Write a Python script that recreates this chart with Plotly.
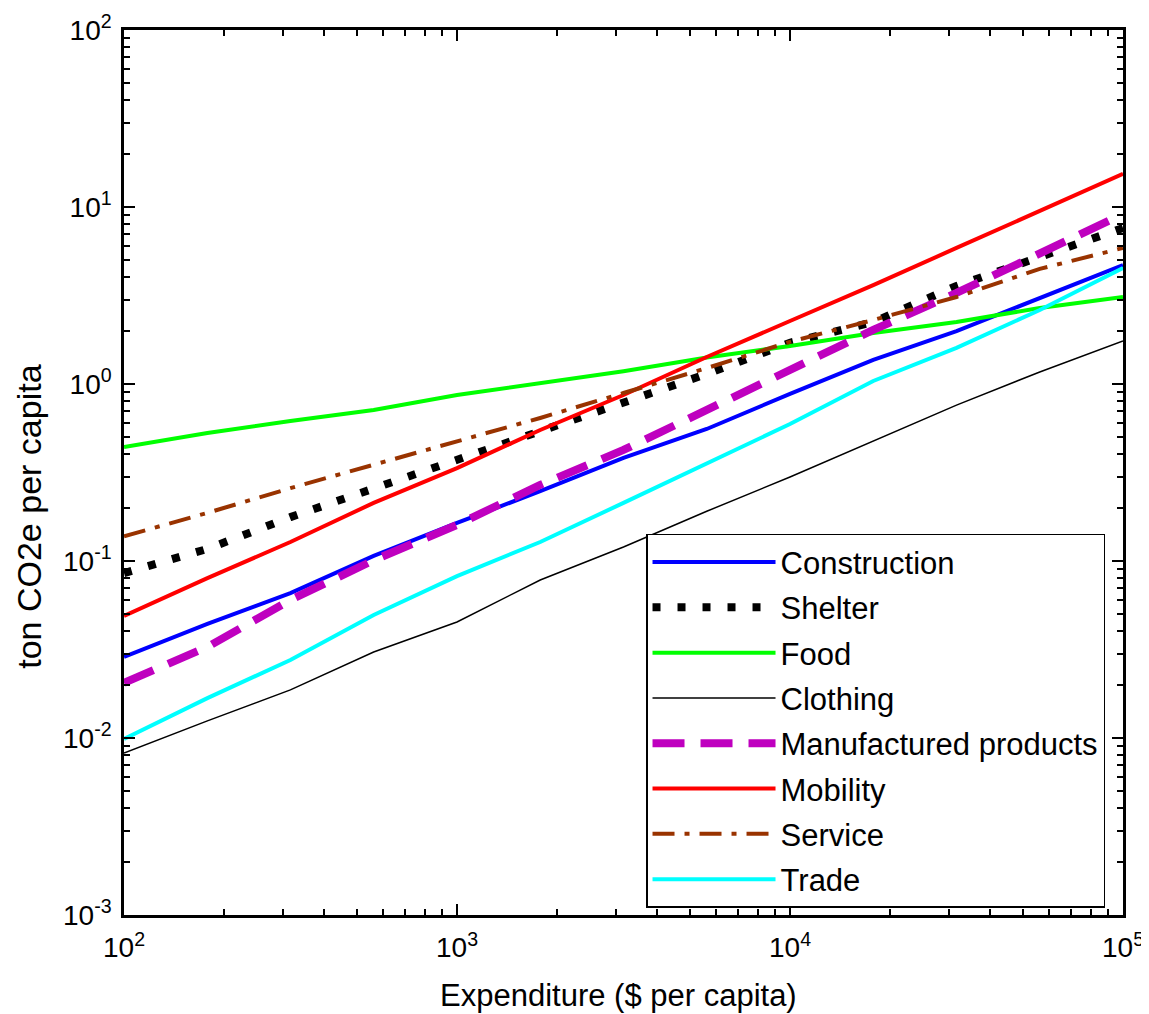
import plotly.graph_objects as go

expenditure = [100, 178, 316, 562, 1000, 1778, 3162, 5623, 10000, 17783, 31623, 56234, 100000]

construction = [0.0287, 0.0441, 0.0659, 0.107, 0.164, 0.248, 0.382, 0.557, 0.879, 1.37, 1.99, 3.06, 4.70]
shelter = [0.0855, 0.117, 0.177, 0.258, 0.377, 0.536, 0.791, 1.14, 1.71, 2.24, 3.58, 5.15, 7.61]
food = [0.441, 0.528, 0.618, 0.713, 0.867, 1.01, 1.18, 1.41, 1.64, 1.94, 2.24, 2.69, 3.10]
clothing = [0.00822, 0.0125, 0.0187, 0.0306, 0.0452, 0.0781, 0.120, 0.191, 0.298, 0.477, 0.760, 1.17, 1.75]
manufactured = [0.0205, 0.0327, 0.0602, 0.101, 0.160, 0.269, 0.424, 0.713, 1.23, 2.02, 3.27, 5.42, 9.12]
mobility = [0.0489, 0.080, 0.128, 0.213, 0.335, 0.550, 0.867, 1.42, 2.27, 3.62, 5.87, 9.49, 15.4]
service = [0.138, 0.187, 0.258, 0.349, 0.470, 0.643, 0.889, 1.23, 1.73, 2.30, 3.10, 4.47, 5.87]
trade = [0.00987, 0.0168, 0.0276, 0.0495, 0.0822, 0.128, 0.213, 0.358, 0.594, 1.04, 1.60, 2.62, 4.52]

x_tickvals = [100, 1000, 10000, 100000]
x_ticktext = ["10<sup>2</sup>", "10<sup>3</sup>", "10<sup>4</sup>", "10<sup>5</sup>"]
y_tickvals = [0.001, 0.01, 0.1, 1, 10, 100]
y_ticktext = ["10<sup>-3</sup>", "10<sup>-2</sup>", "10<sup>-1</sup>", "10<sup>0</sup>", "10<sup>1</sup>", "10<sup>2</sup>"]

x_title = "Expenditure ($ per capita)"
y_title = "ton CO2e per capita"

series = [
    ("Construction", construction, dict(color="#0000FF", width=4)),
    ("Shelter", shelter, dict(color="#000000", width=8, dash="8px,17px")),
    ("Food", food, dict(color="#00FF00", width=4)),
    ("Clothing", clothing, dict(color="#000000", width=1.5)),
    ("Manufactured products", manufactured, dict(color="#BF00BF", width=8, dash="32px,16px")),
    ("Mobility", mobility, dict(color="#FF0000", width=4)),
    ("Service", service, dict(color="#993300", width=4, dash="22px,10px,5px,10px")),
    ("Trade", trade, dict(color="#00FFFF", width=4)),
]

fig = go.Figure()
for name, vals, line in series:
    fig.add_trace(go.Scatter(x=expenditure, y=vals, mode="lines", name=name,
                             legendgroup=name, line=line))

def minor_vals(lo, hi):
    out = []
    for e in range(lo, hi):
        for m in range(2, 10):
            out.append(m * 10 ** e)
    return out

font_family = "Liberation Sans, Arial, sans-serif"

fig.update_layout(
    width=1141, height=1006,
    margin=dict(l=116, r=26, t=22, b=99),
    paper_bgcolor="white", plot_bgcolor="white",
    font=dict(family=font_family, size=28, color="black"),
    showlegend=True,
    legend=dict(
        x=0.982, y=0.008, xanchor="right", yanchor="bottom",
        bgcolor="white", bordercolor="black", borderwidth=1.5,
        font=dict(size=31, family=font_family, color="black"),
        tracegroupgap=2, itemwidth=123,
    ),
    annotations=[
        dict(text=x_title, xref="paper", yref="paper", x=0.495, y=0, yshift=-80,
             xanchor="center", yanchor="middle", showarrow=False,
             font=dict(size=31, family=font_family, color="black")),
        dict(text=y_title, xref="paper", yref="paper", x=0, xshift=-95, y=0.45,
             xanchor="center", yanchor="middle", showarrow=False, textangle=-90,
             font=dict(size=34, family=font_family, color="black")),
    ],
)

fig.update_xaxes(
    type="log", range=[2, 5], automargin=False,
    tickmode="array", tickvals=x_tickvals, ticktext=x_ticktext,
    ticks="inside", ticklen=11, tickwidth=1.5, tickcolor="black",
    showline=True, linecolor="black", linewidth=2.5, mirror="ticks",
    showgrid=False, zeroline=False, ticklabelstandoff=6,
    minor=dict(tickmode="array", tickvals=minor_vals(2, 5), ticks="inside", ticklen=6, tickwidth=1.5, tickcolor="black", showgrid=False),
    tickfont=dict(size=28),
)
fig.update_yaxes(
    type="log", range=[-3, 2], automargin=False,
    tickmode="array", tickvals=y_tickvals, ticktext=y_ticktext,
    ticks="inside", ticklen=11, tickwidth=1.5, tickcolor="black",
    showline=True, linecolor="black", linewidth=2.5, mirror="ticks",
    showgrid=False, zeroline=False, ticklabelstandoff=4,
    minor=dict(tickmode="array", tickvals=minor_vals(-3, 2), ticks="inside", ticklen=6, tickwidth=1.5, tickcolor="black", showgrid=False),
    tickfont=dict(size=28),
)

fig.write_html("out.html")
